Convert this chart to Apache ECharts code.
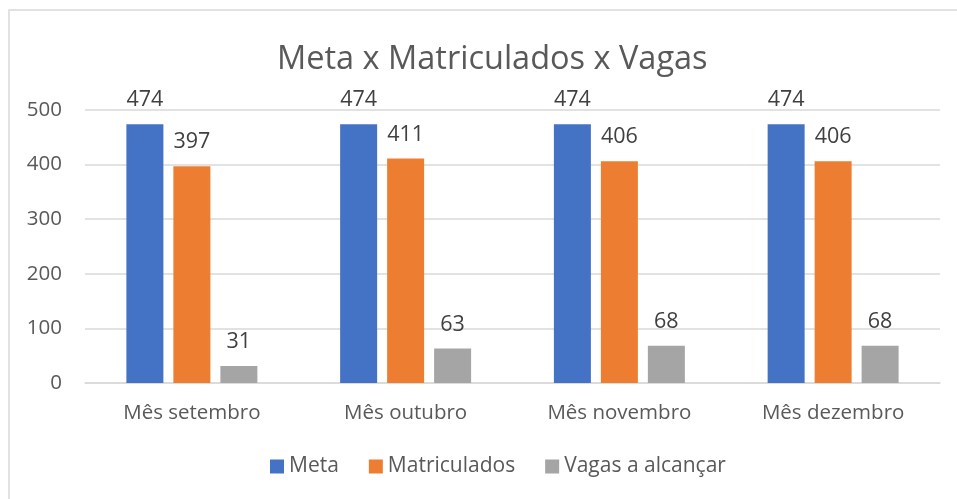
<!DOCTYPE html>
<html>
<head>
<meta charset="utf-8">
<script src="https://cdn.jsdelivr.net/npm/echarts@6/dist/echarts.min.js"></script>
<style>
  html, body { margin: 0; padding: 0; background: #fff; }
  #chart { width: 957px; height: 499px; }
</style>
</head>
<body>
<div id="chart"></div>
<script>
const categories = ['Mês setembro', 'Mês outubro', 'Mês novembro', 'Mês dezembro'];
const meta = [474, 474, 474, 474];
const matriculados = [397, 411, 406, 406];
const vagas = [31, 63, 68, 68];

const font = 'Open Sans';
const textColor = '#595959';

let myChart = echarts.init(document.getElementById('chart'));

function barSeries(name, data, color) {
  return {
    name: name,
    type: 'bar',
    data: data,
    barWidth: 37,
    barGap: '27%',
    itemStyle: { color: color },
    label: {
      show: true,
      position: 'top',
      distance: 13,
      color: '#404040',
      fontSize: 21.5,
      fontFamily: font
    }
  };
}

let option = {
  animation: false,
  backgroundColor: '#fff',
  graphic: [{
    type: 'rect',
    shape: { x: 9, y: 10, width: 960, height: 500 },
    style: { fill: 'none', stroke: '#d9d9d9', lineWidth: 1.5 },
    silent: true
  }],
  title: {
    text: 'Meta x Matriculados x Vagas',
    left: 272,
    top: 38,
    textStyle: { color: textColor, fontSize: 32.5, fontWeight: 'normal', fontFamily: font }
  },
  legend: {
    bottom: 17,
    left: 265,
    itemWidth: 14,
    itemHeight: 14,
    itemGap: 30,
    icon: 'rect',
    textStyle: { color: textColor, fontSize: 21, fontFamily: font }
  },
  grid: { left: 85, right: 17, top: 110, bottom: 116 },
  xAxis: {
    type: 'category',
    data: categories,
    axisLine: { lineStyle: { color: '#d9d9d9', width: 1.5 } },
    axisTick: { show: false },
    axisLabel: { color: textColor, fontSize: 20.5, fontFamily: font, margin: 20 }
  },
  yAxis: {
    type: 'value',
    min: 0,
    max: 500,
    interval: 100,
    axisLine: { show: false },
    axisTick: { show: false },
    splitLine: { lineStyle: { color: '#d9d9d9', width: 1.5 } },
    axisLabel: { color: textColor, fontSize: 20.5, fontFamily: font, margin: 23 }
  },
  series: [
    barSeries('Meta', meta, '#4472C4'),
    barSeries('Matriculados', matriculados, '#ED7D31'),
    barSeries('Vagas a alcançar', vagas, '#A5A5A5')
  ]
};
myChart.setOption(option);
</script>
</body>
</html>
